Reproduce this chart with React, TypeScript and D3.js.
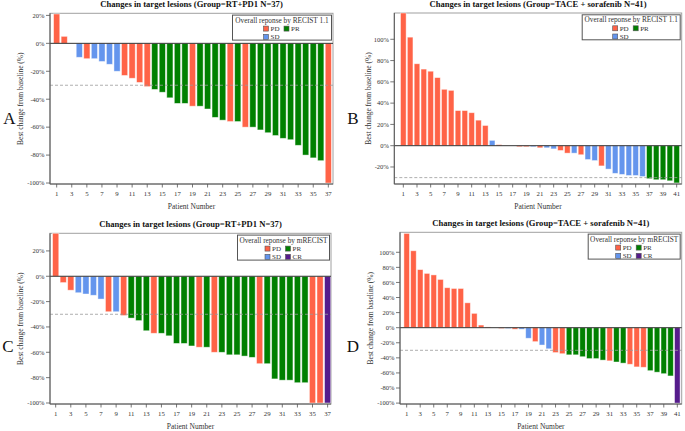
import React from "react";
import * as d3 from "d3";

// ---- Data ----
const valuesA = [21, 5, 0, -10, -11, -11, -13, -15, -20, -23, -25, -28, -31, -33, -35, -39, -43, -43, -45, -45, -47, -53, -55, -56, -56, -60, -60, -62, -64, -66, -68, -69, -73, -80, -82, -84, -100];
const respA = ["PD", "PD", "SD", "SD", "PD", "SD", "SD", "SD", "SD", "PD", "PD", "PD", "PD", "PR", "PR", "PR", "PR", "PR", "PD", "PR", "PR", "PR", "PR", "PD", "PR", "PD", "PR", "PR", "PR", "PR", "PR", "PR", "PR", "PR", "PR", "PR", "PD"];

const valuesB = [125, 102, 77, 72, 70, 64, 53, 52, 33, 33, 31, 24, 19, 5, 1, 0, 0, -1, -1, -1, -2, -2, -3, -4.5, -7, -7, -8.5, -13, -14, -19, -22, -26, -27, -28, -28, -29, -31, -32, -32, -33, -35];
const respB = ["PD", "PD", "PD", "PD", "PD", "PD", "PD", "PD", "PD", "PD", "PD", "PD", "PD", "SD", "PD", "SD", "SD", "PD", "PD", "SD", "PD", "SD", "SD", "PD", "PD", "SD", "PD", "SD", "SD", "PD", "SD", "SD", "SD", "SD", "SD", "SD", "PR", "PR", "PR", "PR", "PR"];

const valuesC = [34, -5, -11, -13, -14, -15, -18, -28, -28, -31, -33, -35, -43, -45, -45, -47, -53, -53, -55, -56, -56, -60, -60, -62, -62, -63, -64, -69, -69, -81, -82, -82, -84, -84, -100, -100, -100];
const respC = ["PD", "PD", "PD", "SD", "SD", "SD", "SD", "PD", "SD", "PD", "PR", "PR", "PR", "PD", "PR", "PR", "PR", "PR", "PR", "PD", "PR", "PD", "PR", "PR", "PR", "PR", "PR", "PD", "PR", "PR", "PR", "PR", "PR", "PR", "PD", "PD", "CR"];

const valuesD = [125, 102, 77, 72, 70, 64, 53, 52, 52, 33, 19, 3.5, 1, 0, -1, -1, -2, -2, -14, -18.5, -23, -28, -33, -34.5, -36, -36, -38.5, -41, -41, -43, -44, -45.5, -47, -48.5, -52, -52.5, -57, -59, -61, -64, -100];
const respD = ["PD", "PD", "PD", "PD", "PD", "PD", "PD", "PD", "PD", "PD", "PD", "PD", "PD", "SD", "PD", "SD", "PD", "SD", "SD", "PD", "SD", "SD", "PD", "PD", "PR", "PR", "PR", "PR", "PR", "PR", "PD", "PR", "PR", "PD", "PD", "PD", "PR", "PR", "PR", "PR", "CR"];

const titles = [
  "Changes in target lesions (Group=RT+PD1 N=37)",
  "Changes in target lesions (Group=TACE + sorafenib N=41)",
  "Changes in target lesions (Group=RT+PD1 N=37)",
  "Changes in target lesions (Group=TACE + sorafenib N=41)",
];
const legendTitles = [
  "Overall reponse by RECIST 1.1",
  "Overall reponse by RECIST 1.1",
  "Overall reponse by mRECIST",
  "Overall reponse by mRECIST",
];
const panelLetters = ["A", "B", "C", "D"];
const yTicksA = [20, 0, -20, -40, -60, -80, -100];
const yTicksB = [100, 80, 60, 40, 20, 0, -20];
const yTicksC = [20, 0, -20, -40, -60, -80, -100];
const yTicksD = [100, 80, 60, 40, 20, 0, -20, -40, -60, -80, -100];
const legendItems3 = [["PD", "PR"], ["SD"]];
const legendItems4 = [["PD", "PR"], ["SD", "CR"]];
const refLine = -30;

const colors: Record<string, string> = {
  PD: "#FF6347",
  SD: "#6495ED",
  PR: "#008000",
  CR: "#561C8C",
};

const FONT = "'Liberation Serif', 'Times New Roman', serif";

type Geo = {
  left: number; right: number; top: number; bottom: number;
  bandL: number; bandR: number; domain: [number, number];
  labelX: number; letterX: number; letterY: number;
  legendW: number;
};

const geos: Geo[] = [
  { left: 50, right: 333, top: 13.3, bottom: 184, bandL: 52.9, bandR: 332.1, domain: [-100.7, 21.5], labelX: 20, letterX: 9.5, letterY: 118, legendW: 99 },
  { left: 394.3, right: 681.7, top: 13, bottom: 184, bandL: 399.9, bandR: 680.1, domain: [-36, 124.7], labelX: 368, letterX: 352.8, letterY: 118, legendW: 98 },
  { left: 50, right: 331, top: 233.3, bottom: 404, bandL: 51.9, bandR: 331.4, domain: [-100.8, 33.9], labelX: 20, letterX: 8, letterY: 346, legendW: 92 },
  { left: 400, right: 681.7, top: 232.3, bottom: 404, bandL: 403.3, bandR: 680.7, domain: [-101.2, 126.5], labelX: 370, letterX: 353, letterY: 346, legendW: 92 },
];

const panelData = [
  { values: valuesA, resp: respA, ticks: yTicksA, legend: legendItems3 },
  { values: valuesB, resp: respB, ticks: yTicksB, legend: legendItems3 },
  { values: valuesC, resp: respC, ticks: yTicksC, legend: legendItems4 },
  { values: valuesD, resp: respD, ticks: yTicksD, legend: legendItems4 },
];

function Panel({ i }: { i: number }) {
  const g = geos[i];
  const pd = panelData[i];
  const patients = pd.values.map((_, k) => String(k + 1));
  const x = d3.scaleBand<string>().domain(patients).range([g.bandL, g.bandR]).paddingInner(0.18).paddingOuter(0.09);
  const y = d3.scaleLinear().domain(g.domain).range([g.bottom, g.top]).clamp(true);
  const cx = (g.left + g.right) / 2;
  const cy = (g.top + g.bottom) / 2;
  const lgRight = g.right - 1.5;
  const lgLeft = lgRight - g.legendW;
  const lgCx = (lgLeft + lgRight) / 2;
  const lgTop = g.top + 1.8;
  const xTickPatients = patients.filter((_, k) => k % 2 === 0);
  return (
    <g>
      {/* frame */}
      <rect x={g.left} y={g.top} width={g.right - g.left} height={g.bottom - g.top} fill="none" stroke="#a0a0a0" strokeWidth={1} />
      {/* bars */}
      {pd.values.map((v, k) => {
        const p = patients[k];
        const y0 = y(0);
        const yv = y(v);
        if (v === 0) return null;
        return (
          <rect key={k} x={x(p)} width={x.bandwidth()} y={Math.min(y0, yv)} height={Math.abs(yv - y0)}
            fill={colors[pd.resp[k]]} stroke="#ffffff" strokeOpacity={0.55} strokeWidth={0.8} />
        );
      })}
      {/* reference lines */}
      <line x1={g.left} x2={g.right} y1={y(refLine)} y2={y(refLine)} stroke="#9a9a9a" strokeWidth={0.8} strokeDasharray="3,2" />
      <line x1={g.left} x2={g.right} y1={y(0)} y2={y(0)} stroke="#333" strokeWidth={1} />
      {/* axes */}
      <line x1={g.left} x2={g.left} y1={g.top} y2={g.bottom} stroke="#555" strokeWidth={1} />
      <line x1={g.left} x2={g.right} y1={g.bottom} y2={g.bottom} stroke="#555" strokeWidth={1} />
      {pd.ticks.map((t) => (
        <g key={t}>
          <line x1={g.left - 4} x2={g.left} y1={y(t)} y2={y(t)} stroke="#555" strokeWidth={0.8} />
          <text x={g.left - 5.5} y={y(t) + 2.3} textAnchor="end" fontFamily={FONT} fontSize={6.5} fill="#333">{`${t}%`}</text>
        </g>
      ))}
      {xTickPatients.map((p) => {
        const px = (x(p) as number) + x.bandwidth() / 2;
        return (
          <g key={p}>
            <line x1={px} x2={px} y1={g.bottom} y2={g.bottom + 3.5} stroke="#555" strokeWidth={0.8} />
            <text x={px} y={g.bottom + 11.5} textAnchor="middle" fontFamily={FONT} fontSize={6.8} fill="#333">{p}</text>
          </g>
        );
      })}
      {/* labels */}
      <text x={cx} y={g.top - 6} textAnchor="middle" fontFamily={FONT} fontSize={8.6} fontWeight="bold" fill="#111">{titles[i]}</text>
      <text x={cx} y={g.bottom + 24.5} textAnchor="middle" fontFamily={FONT} fontSize={7.5} fill="#333">Patient Number</text>
      <text transform={`translate(${g.labelX + 2.5},${cy}) rotate(-90)`} textAnchor="middle" fontFamily={FONT} fontSize={7.5} fill="#333">Best change from baseline (%)</text>
      <text x={g.letterX} y={g.letterY + 6} textAnchor="middle" fontFamily={FONT} fontSize={17} fill="#111">{panelLetters[i]}</text>
      {/* legend */}
      <rect x={lgLeft} y={lgTop} width={g.legendW} height={25} fill="#fff" stroke="#555" strokeWidth={1} />
      <text x={lgCx} y={lgTop + 7.6} textAnchor="middle" fontFamily={FONT} fontSize={7.3} fill="#333">{legendTitles[i]}</text>
      {pd.legend.map((row, r) =>
        row.map((item, c) => {
          const sx = lgCx + (c === 0 ? -18.5 : 2);
          const sy = lgTop + 11 + r * 8.2;
          return (
            <g key={item}>
              <rect x={sx} y={sy} width={5} height={5} fill={colors[item]} stroke="#555" strokeWidth={0.6} />
              <text x={sx + 7} y={sy + 4.8} fontFamily={FONT} fontSize={7} fill="#333">{item}</text>
            </g>
          );
        })
      )}
    </g>
  );
}

export default function App() {
  return (
    <svg width={685} height={431} style={{ position: "absolute", left: 0, top: 0, background: "#fff" }}>
      <rect width={685} height={431} fill="#fff" />
      {[0, 1, 2, 3].map((i) => <Panel key={i} i={i} />)}
    </svg>
  );
}
